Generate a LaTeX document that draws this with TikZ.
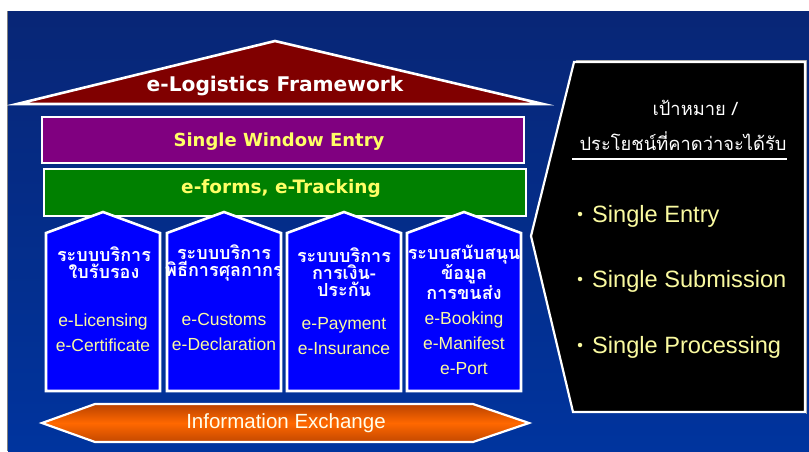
\documentclass[tikz,border=0pt]{standalone}
\usepackage{fontspec}
\setmainfont{Liberation Sans}
\newfontfamily\headfont{DejaVu Sans}
\newfontfamily\thaifont[Script=Thai]{Loma}
\definecolor{bgtop}{RGB}{8,38,118}
\definecolor{bgbot}{RGB}{0,52,158}
\definecolor{roofred}{RGB}{128,0,0}
\definecolor{winpurple}{RGB}{128,0,128}
\definecolor{formgreen}{RGB}{0,128,0}
\definecolor{pillarblue}{RGB}{0,0,255}
\definecolor{titleyellow}{RGB}{255,255,102}
\definecolor{paleyellow}{RGB}{250,250,160}
\definecolor{orangemid}{RGB}{255,104,0}
\definecolor{orangedark}{RGB}{185,66,0}
\newcommand{\headsize}[1]{\headfont\bfseries\fontsize{#1}{22}\selectfont}
\tikzset{
  frame/.style={draw=white, line width=2.6pt, line join=miter},
  headtext/.style={inner sep=0pt},
  pillartitle/.style={font=\thaifont\bfseries\fontsize{18}{17}\selectfont, text=white, align=center, inner sep=0pt},
  pillaritem/.style={font=\fontsize{17.5}{25}\selectfont, text=paleyellow, align=center, inner sep=0pt},
  goaltext/.style={font=\thaifont\fontsize{18.3}{20}\selectfont, text=white, inner sep=0pt},
  bullettext/.style={font=\fontsize{23.6}{26}\selectfont, text=paleyellow, anchor=west, inner sep=0pt},
  bulletdot/.style={circle, fill=paleyellow, inner sep=0pt, minimum size=4.5pt}
}
\begin{document}
\begin{tikzpicture}[x=1pt,y=-1pt]
\useasboundingbox (0,0) rectangle (809,451);
% page and backdrop
\fill[white] (0,0) rectangle (809,451);
\shade[top color=bgtop, bottom color=bgbot] (8,11) rectangle (809,451);
\draw[gray, line width=1.2pt] (7.4,11) -- (7.4,451);

% roof
\draw[frame, fill=roofred] (17,104) -- (275,41) -- (543,104) -- cycle;
\node[headtext, text=white, font=\headsize{20.2}] (roof) at (275,86) {e-Logistics Framework};

% single window and forms bars
\draw[frame, fill=winpurple] (42,117) rectangle (524,163);
\node[headtext, text=titleyellow, font=\headsize{18}] (window) at (279,142) {Single Window Entry};
\draw[frame, fill=formgreen] (44,169) rectangle (526,216);
\node[headtext, text=titleyellow, font=\headsize{18.5}] (forms) at (281,188) {e-forms, e-Tracking};

% four pillars
\foreach \px in {46,167,287,407}{
  \draw[frame, fill=pillarblue] (\px,391) -- (\px,233) -- (\px+57,212) -- (\px+114,233) -- (\px+114,391) -- cycle;
}
\node[pillartitle] (p1t) at (104,263) {ระบบบริการ\\ใบรับรอง};
\node[pillaritem] (p1i) at (103,333) {e-Licensing\\e-Certificate};
\node[pillartitle] (p2t) at (224,263) {ระบบบริการ\\พิธีการศุลกากร};
\node[pillaritem] (p2i) at (224,332) {e-Customs\\e-Declaration};
\node[pillartitle] (p3t) at (344,272) {ระบบบริการ\\การเงิน-\\ประกัน};
\node[pillaritem] (p3i) at (344,336) {e-Payment\\e-Insurance};
\node[pillartitle] (p4t) at (464,272) {ระบบสนับสนุน\\ข้อมูล\\การขนส่ง};
\node[pillaritem] (p4i) at (464,343) {e-Booking\\e-Manifest\\e-Port};

% information exchange band
\shade[top color=orangedark, bottom color=orangedark!85!orangemid, middle color=orangemid]
  (42,423) -- (95,404) -- (473,404) -- (529,423) -- (473,442) -- (95,442) -- cycle;
\draw[frame, line width=2.2pt] (42,423) -- (95,404) -- (473,404) -- (529,423) -- (473,442) -- (95,442) -- cycle;
\node[font=\fontsize{20.5}{22}\selectfont, text=white!92!yellow, inner sep=0pt] (exchange) at (286,423) {Information Exchange};

% goals panel
\draw[gray!70, line width=1pt] (575.5,60.5) -- (806.5,60.5) -- (806.5,413.5);
\draw[white, line width=2.2pt, fill=black, line join=miter] (574,62) -- (805,62) -- (805,412) -- (573,412) -- (531,236) -- cycle;
\node[goaltext] (goal1) at (695,108) {เป้าหมาย /};
\node[goaltext] (goal2) at (683,141) {ประโยชน์ที่คาดว่าจะได้รับ};
\draw[white, line width=2pt] (572,159) -- (787,159);
\node[bulletdot] (d1) at (580,214) {};
\node[bullettext] (b1) at (592,216) {Single Entry};
\node[bulletdot] (d2) at (580,279) {};
\node[bullettext] (b2) at (592,281) {Single Submission};
\node[bulletdot] (d3) at (580,345) {};
\node[bullettext] (b3) at (592,347) {Single Processing};
\end{tikzpicture}
\end{document}
